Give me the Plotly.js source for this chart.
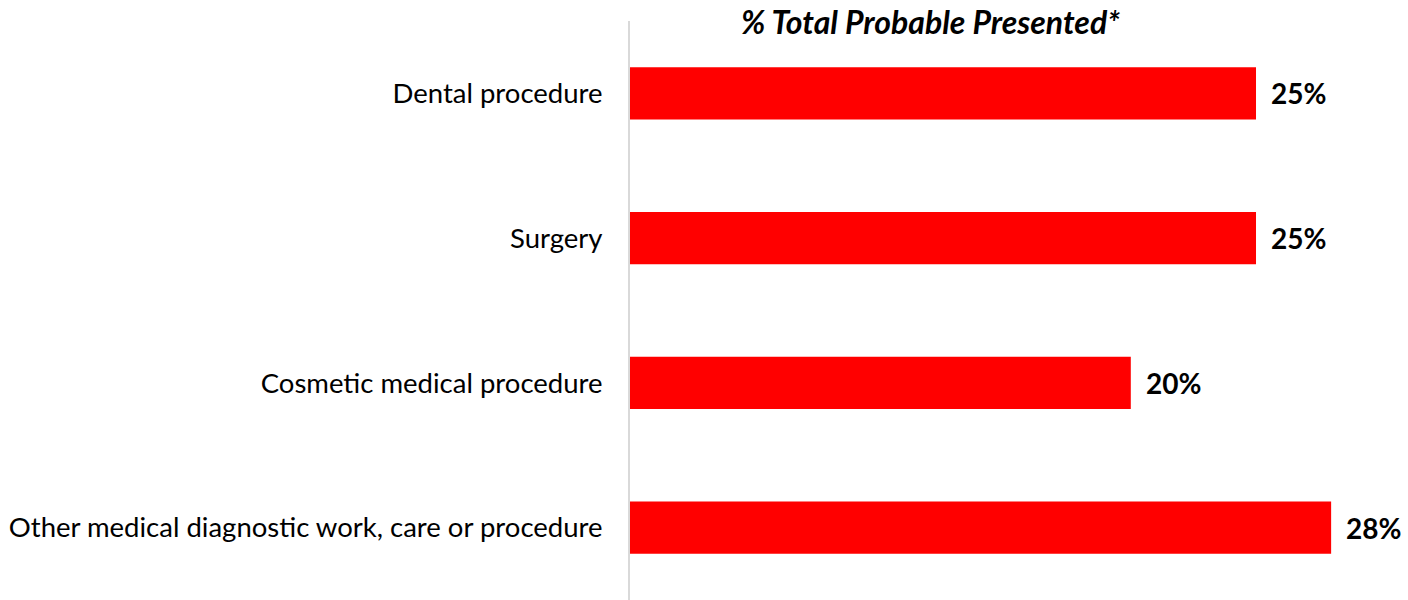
<!DOCTYPE html>
<html>
<head>
<meta charset="utf-8">
<script src="https://cdn.plot.ly/plotly-3.0.1.min.js"></script>
<style>html,body{margin:0;padding:0;background:#fff;}#chart{width:1408px;height:600px;}</style>
</head>
<body>
<div id="chart"></div>
<script>
const categories = ["Dental procedure", "Surgery", "Cosmetic medical procedure", "Other medical diagnostic work, care or procedure"];
const values = [25, 25, 20, 28];
const chartTitle = "% Total Probable Presented*";

const FONT = "Lato, 'Open Sans', sans-serif";

const trace = {
  type: 'bar',
  orientation: 'h',
  y: categories,
  x: values,
  marker: {color: '#ff0000'},
  width: 0.36,
  hoverinfo: 'none'
};

const annotations = values.map((v, i) => ({
  x: v, y: categories[i], xref: 'x', yref: 'y',
  text: '<b>' + v + '%</b>', showarrow: false,
  xanchor: 'left', yanchor: 'middle', xshift: 13,
  font: {family: FONT, size: 28, color: '#000'}
}));
annotations.push({
  xref: 'paper', yref: 'paper', x: (930 - 630) / 778, y: 1, yshift: 0,
  xanchor: 'center', yanchor: 'middle',
  text: '<b><i>' + chartTitle + '</i></b>', showarrow: false,
  font: {family: FONT, size: 32, color: '#000'}
});

const layout = {
  width: 1408, height: 600,
  margin: {l: 630, r: 0, t: 21, b: 0, pad: 0},
  paper_bgcolor: '#fff', plot_bgcolor: '#fff',
  showlegend: false,
  xaxis: {range: [0, 31.07], visible: false, fixedrange: true},
  yaxis: {
    autorange: 'reversed', type: 'category',
    showline: true, linecolor: '#d9d9d9', linewidth: 2,
    showgrid: false, zeroline: false, ticks: '',
    ticklabelstandoff: 20,
    tickfont: {family: FONT, size: 27.5, color: '#000'},
    fixedrange: true
  },
  annotations: annotations
};

Plotly.newPlot('chart', [trace], layout, {displayModeBar: false, staticPlot: true});
</script>
</body>
</html>
